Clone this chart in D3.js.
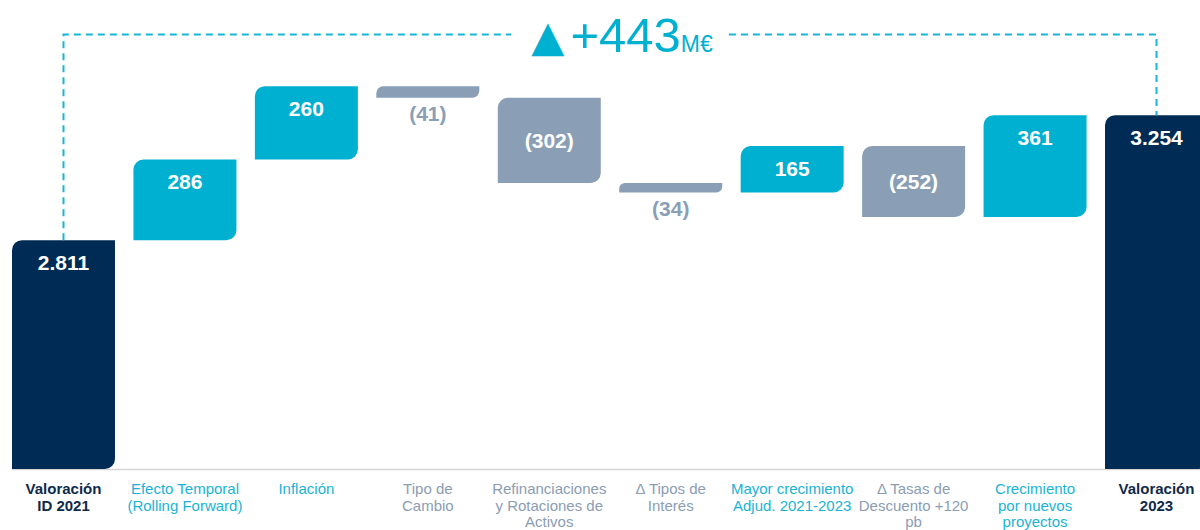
<!DOCTYPE html>
<html>
<head>
<meta charset="utf-8">
<script src="https://cdn.jsdelivr.net/npm/d3@7"></script>
<style>
  body { margin: 0; background: #fff; }
  svg { display: block; font-family: "Liberation Sans", Arial, sans-serif; }
</style>
</head>
<body>
<div id="chart"></div>
<script>
var categoryLines = [
    ["Valoración", "ID 2021"],
    ["Efecto Temporal", "(Rolling Forward)"],
    ["Inflación"],
    ["Tipo de", "Cambio"],
    ["Refinanciaciones", "y Rotaciones de", "Activos"],
    ["Δ Tipos de", "Interés"],
    ["Mayor crecimiento", "Adjud. 2021-2023"],
    ["Δ Tasas de", "Descuento +120", "pb"],
    ["Crecimiento", "por nuevos", "proyectos"],
    ["Valoración", "2023"]
];
var values = [2811, 286, 260, -41, -302, -34, 165, -252, 361, 3254];
var types = ["total", "delta", "delta", "delta", "delta", "delta", "delta", "delta", "delta", "total"];
var unitLabel = "M€";

var colors = { total: "#002b54", up: "#00b0d1", down: "#8a9fb6" };
var textColors = { total: "#102a4a", up: "#19b3d6", down: "#8b9db3" };

var width = 1200, height = 530;
var es = d3.formatLocale({ decimal: ",", thousands: ".", grouping: [3], currency: ["", "€"] });
var fmt = es.format(",");

var svg = d3.select("#chart").append("svg")
    .attr("width", width)
    .attr("height", height);

var x = d3.scaleBand()
    .domain(d3.range(values.length))
    .range([12, 1208])
    .paddingInner(0.152)
    .paddingOuter(0);

var y = d3.scaleLinear()
    .domain([2000, 3400])
    .range([469, 74]);

// running totals for the waterfall
var running = 0;
var bars = values.map(function(v, i) {
    var b = { i: i, value: v, type: types[i] };
    if (types[i] === "total") {
        b.lo = y.domain()[0];
        b.hi = v;
        b.kind = "total";
        running = v;
    } else {
        b.lo = Math.min(running, running + v);
        b.hi = Math.max(running, running + v);
        b.kind = v >= 0 ? "up" : "down";
        running += v;
    }
    return b;
});

// baseline
svg.append("line")
    .attr("x1", x(0))
    .attr("x2", width)
    .attr("y1", y(y.domain()[0]) + 0.5)
    .attr("y2", y(y.domain()[0]) + 0.5)
    .attr("stroke", "#d6d6d6")
    .attr("stroke-width", 1.5);

function leafPath(x0, y0, w, h) {
    var r = Math.min(10, h * 0.6);
    return "M" + (x0 + r) + "," + y0 +
        "H" + (x0 + w) +
        "V" + (y0 + h - r) +
        "A" + r + "," + r + " 0 0 1 " + (x0 + w - r) + "," + (y0 + h) +
        "H" + x0 +
        "V" + (y0 + r) +
        "A" + r + "," + r + " 0 0 1 " + (x0 + r) + "," + y0 + "Z";
}

svg.selectAll(".bar")
    .data(bars)
    .enter().append("path")
    .attr("class", "bar")
    .attr("fill", function(d) { return colors[d.kind]; })
    .attr("d", function(d) {
        return leafPath(x(d.i), y(d.hi), x.bandwidth(), y(d.lo) - y(d.hi));
    });

// value labels
svg.selectAll(".value")
    .data(bars)
    .enter().append("text")
    .attr("class", "value")
    .attr("text-anchor", "middle")
    .attr("font-size", 21)
    .attr("font-weight", "bold")
    .attr("x", function(d) { return x(d.i) + x.bandwidth() / 2; })
    .attr("y", function(d) {
        var top = y(d.hi), bot = y(d.lo), h = bot - top;
        if (h < 30) return bot + 23;
        if (d.kind === "down") return (top + bot) / 2 + 8;
        return top + 30;
    })
    .attr("fill", function(d) {
        return (y(d.lo) - y(d.hi) < 30) ? colors.down : "#fff";
    })
    .text(function(d) {
        return d.value < 0 ? "(" + fmt(-d.value) + ")" : fmt(d.value);
    });

// category labels
var cat = svg.selectAll(".cat")
    .data(bars)
    .enter().append("text")
    .attr("class", "cat")
    .attr("text-anchor", "middle")
    .attr("font-size", 15)
    .attr("font-weight", function(d) { return d.kind === "total" ? "bold" : "normal"; })
    .attr("fill", function(d) { return textColors[d.kind]; })
    .attr("transform", function(d) {
        return "translate(" + (x(d.i) + x.bandwidth() / 2) + ",494)";
    });

cat.selectAll("tspan")
    .data(function(d) { return categoryLines[d.i]; })
    .enter().append("tspan")
    .attr("x", 0)
    .attr("y", function(d, i) { return i * 16.7; })
    .text(function(d) { return d; });

// total change annotation
var first = bars[0], last = bars[bars.length - 1];
var xl = x(first.i) + x.bandwidth() / 2,
    xr = x(last.i) + x.bandwidth() / 2,
    yTop = 34.5;
var change = last.value - first.value;

var note = svg.append("text")
    .attr("x", (xl + xr) / 2 + 12)
    .attr("y", 52)
    .attr("text-anchor", "middle")
    .attr("fill", colors.up);
note.append("tspan")
    .attr("font-family", "DejaVu Sans")
    .attr("font-size", 43)
    .attr("dy", -1)
    .text("▲");
note.append("tspan")
    .attr("font-size", 49)
    .attr("dx", 6)
    .attr("dy", 1)
    .text((change >= 0 ? "+" : "") + fmt(change));
note.append("tspan")
    .attr("font-size", 23)
    .text(unitLabel);

var bb = note.node().getBBox();

var dash = svg.append("g")
    .attr("fill", "none")
    .attr("stroke", "#1ab4d6")
    .attr("stroke-width", 2)
    .attr("stroke-dasharray", "7,5");

dash.append("path")
    .attr("d", "M" + xl + "," + y(first.hi) + "V" + yTop + "H" + (bb.x - 20));
dash.append("path")
    .attr("d", "M" + (bb.x + bb.width + 16) + "," + yTop + "H" + xr + "V" + y(last.hi));
</script>
</body>
</html>
